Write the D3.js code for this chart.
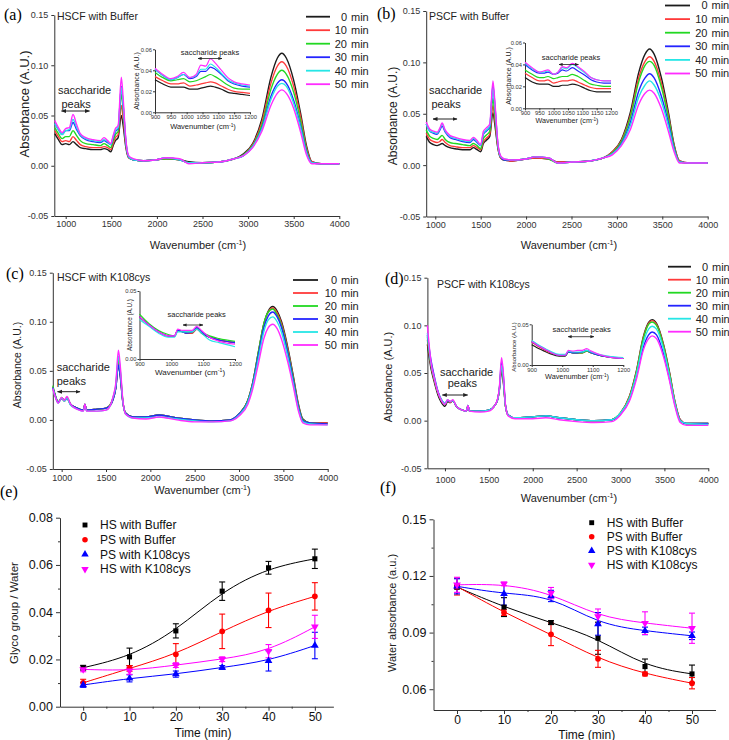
<!DOCTYPE html>
<html>
<head>
<meta charset="utf-8">
<title>FTIR spectra and kinetics</title>
<script src="https://cdn.jsdelivr.net/npm/d3@7/dist/d3.min.js"></script>
<style>
  body { margin: 0; background: #fff; }
  svg { display: block; font-family: "Liberation Sans", Arial, sans-serif; }
</style>
</head>
<body>
<svg id="figure" width="729" height="740"></svg>
<script>
////////////////////////////////////////////////////////
//////////////////// Data //////////////////////////////
////////////////////////////////////////////////////////

const timeLabels = ["0", "10", "20", "30", "40", "50"];
const specColors = ["#1c1c1c", "#ff3a3a", "#22d822", "#2424ff", "#26e6e6", "#ff2cff"];
const mainWnTicks = [1000, 1500, 2000, 2500, 3000, 3500, 4000];
const absTicks = [-0.05, 0, 0.05, 0.10, 0.15];

// (a) HSCF with Buffer - one row per time (0 ... 50 min)
const wnA = [880,920,960,1000,1040,1080,1120,1160,1220,1300,1380,1420,1460,1495,1520,1545,1575,1610,1630,1660,1690,1740,1850,2000,2100,2250,2350,2500,2700,2850,2950,3050,3150,3250,3320,3370,3420,3500,3580,3640,3700,3800,4000];
const absA = [
  [.032,.026,.021,.022,.021,.024,.021,.018,.017,.016,.016,.017,.016,.014,.020,.025,.028,.050,.040,.018,.008,.006,.005,.006,.007,.006,.004,.003,.004,.007,.012,.022,.046,.088,.107,.112,.107,.085,.050,.020,.004,.002,.002],
  [.035,.029,.024,.025,.024,.029,.025,.021,.019,.018,.018,.019,.018,.016,.022,.028,.031,.060,.047,.020,.008,.006,.005,.006,.007,.006,.003,.003,.004,.007,.011,.021,.043,.082,.099,.1035,.099,.079,.047,.018,.004,.002,.002],
  [.038,.032,.027,.029,.029,.035,.030,.025,.022,.021,.020,.022,.020,.018,.025,.031,.034,.071,.055,.022,.009,.006,.005,.006,.007,.006,.003,.003,.004,.007,.011,.020,.040,.076,.091,.095,.091,.073,.043,.016,.003,.002,.002],
  [.042,.036,.031,.035,.035,.043,.036,.030,.026,.024,.023,.025,.023,.021,.028,.034,.037,.079,.061,.024,.009,.006,.005,.006,.008,.006,.003,.003,.004,.007,.010,.019,.037,.069,.082,.0855,.082,.065,.038,.014,.003,.002,.002],
  [.042,.036,.031,.035,.036,.046,.038,.031,.027,.025,.024,.026,.024,.021,.029,.035,.038,.078,.060,.024,.009,.006,.005,.006,.008,.006,.003,.003,.004,.007,.010,.019,.036,.066,.079,.082,.079,.062,.036,.013,.003,.002,.002],
  [.045,.038,.033,.037,.038,.051,.041,.032,.028,.026,.025,.028,.025,.022,.030,.037,.040,.088,.067,.026,.010,.007,.005,.006,.008,.007,.002,.003,.004,.007,.010,.018,.034,.060,.072,.0755,.072,.057,.032,.011,.002,.002,.002]
];
const insetWnA = [900,925,950,970,990,1010,1030,1045,1060,1075,1090,1110,1130,1150,1175,1200];
const insetAbsA = [
  [.031,.027,.024,.024,.024,.022,.022,.023,.024,.025,.024,.022,.019,.018,.017,.016],
  [.034,.030,.027,.027,.028,.025,.026,.027,.028,.029,.028,.025,.022,.020,.019,.018],
  [.038,.033,.030,.031,.032,.029,.030,.032,.034,.036,.034,.030,.026,.023,.022,.022],
  [.041,.035,.031,.033,.036,.032,.034,.039,.039,.043,.041,.036,.030,.027,.025,.024],
  [.041,.035,.031,.033,.036,.033,.035,.041,.041,.046,.043,.037,.031,.028,.026,.025],
  [.042,.036,.032,.034,.038,.033,.036,.045,.044,.051,.047,.040,.033,.029,.027,.026]
];

// (b) PSCF with Buffer
const wnB = [900,940,980,1020,1050,1075,1110,1160,1220,1300,1380,1420,1460,1500,1530,1560,1600,1635,1655,1690,1720,1760,1850,2000,2100,2250,2350,2500,2700,2850,2950,3050,3150,3240,3310,3360,3410,3490,3570,3630,3690,3800,4000];
const absB = [
  [.028,.022,.020,.019,.020,.021,.019,.017,.016,.015,.015,.017,.015,.013,.021,.024,.028,.051,.040,.016,.007,.005,.004,.006,.007,.006,.003,.003,.004,.007,.013,.025,.052,.090,.108,.113,.108,.085,.050,.020,.004,.002,.002],
  [.031,.025,.023,.022,.023,.025,.022,.019,.018,.017,.017,.019,.017,.015,.023,.026,.030,.058,.045,.017,.007,.005,.004,.006,.007,.006,.003,.003,.004,.007,.013,.024,.049,.085,.101,.1055,.101,.080,.047,.019,.004,.002,.002],
  [.034,.028,.026,.025,.027,.029,.025,.022,.021,.020,.019,.021,.019,.016,.026,.029,.033,.065,.050,.018,.008,.005,.005,.006,.008,.006,.002,.003,.004,.007,.012,.023,.047,.081,.097,.101,.097,.076,.045,.018,.003,.002,.002],
  [.040,.033,.031,.030,.034,.038,.032,.027,.025,.023,.022,.025,.022,.019,.030,.033,.037,.078,.060,.020,.008,.005,.005,.006,.008,.007,.002,.003,.004,.007,.011,.021,.042,.072,.085,.089,.085,.067,.040,.016,.003,.002,.002],
  [.040,.033,.032,.031,.035,.040,.033,.028,.026,.024,.023,.026,.023,.019,.031,.034,.038,.075,.058,.020,.008,.006,.005,.006,.008,.007,.002,.003,.004,.007,.011,.020,.039,.066,.078,.082,.078,.062,.037,.015,.003,.002,.002],
  [.042,.035,.033,.032,.036,.041,.034,.029,.027,.025,.024,.027,.024,.020,.033,.036,.040,.082,.063,.021,.009,.006,.005,.006,.008,.007,.002,.003,.004,.007,.010,.019,.035,.059,.070,.073,.070,.055,.032,.013,.002,.002,.002]
];
const insetWnB = [900,925,950,965,980,1000,1015,1030,1045,1065,1085,1110,1130,1150,1175,1200];
const insetAbsB = [
  [.028,.024,.022,.022,.022,.020,.020,.021,.021,.022,.021,.018,.016,.015,.015,.015],
  [.032,.028,.025,.025,.026,.023,.024,.025,.025,.026,.024,.021,.019,.018,.018,.018],
  [.035,.031,.028,.028,.029,.027,.028,.029,.029,.031,.029,.025,.022,.021,.020,.020],
  [.040,.035,.032,.032,.033,.031,.032,.035,.034,.037,.034,.030,.026,.024,.023,.023],
  [.041,.036,.033,.033,.034,.031,.033,.037,.036,.040,.037,.032,.028,.026,.025,.025],
  [.042,.037,.033,.034,.035,.031,.033,.038,.037,.041,.038,.033,.028,.026,.025,.025]
];

// (c) HSCF with K108cys
const wnC = [900,930,960,1000,1030,1060,1100,1150,1200,1245,1262,1280,1400,1500,1550,1580,1610,1640,1660,1690,1720,1800,1950,2100,2300,2500,2700,2900,3000,3100,3150,3220,3280,3330,3380,3430,3480,3550,3610,3670,3720,3800,4000];
const absC = [
  [.033,.024,.018,.022,.020,.022,.016,.013,.011,.010,.016,.010,.011,.012,.015,.021,.032,.056,.045,.018,.007,.003,.003,.005,.002,.000,-.001,.000,.006,.020,.036,.070,.098,.111,.1155,.111,.100,.074,.046,.016,.001,-.003,-.003],
  [.033,.024,.018,.022,.019,.022,.016,.013,.011,.010,.016,.010,.011,.012,.016,.022,.033,.060,.048,.019,.007,.003,.003,.005,.002,.000,-.001,.000,.006,.020,.036,.069,.097,.110,.114,.109,.098,.072,.044,.015,.000,-.003,-.003],
  [.035,.025,.018,.023,.020,.023,.016,.013,.011,.010,.016,.010,.011,.012,.016,.023,.034,.062,.050,.019,.007,.003,.003,.005,.002,.000,-.001,.000,.006,.020,.036,.070,.098,.110,.113,.107,.096,.070,.043,.014,.000,-.003,-.004],
  [.033,.024,.018,.022,.020,.022,.016,.013,.011,.010,.016,.010,.011,.012,.015,.021,.032,.056,.045,.018,.007,.003,.003,.005,.002,.000,-.001,.000,.006,.019,.035,.067,.094,.106,.110,.105,.094,.068,.041,.013,-.001,-.003,-.004],
  [.032,.023,.017,.022,.019,.022,.015,.012,.010,.009,.015,.009,.009,.010,.015,.023,.035,.065,.052,.019,.006,.002,.002,.003,.001,-.001,-.002,-.001,.005,.018,.033,.063,.090,.102,.105,.100,.089,.064,.038,.011,-.002,-.004,-.005],
  [.032,.023,.017,.023,.020,.024,.016,.012,.010,.009,.016,.009,.009,.010,.015,.024,.037,.071,.056,.020,.006,.002,.001,.003,.000,-.002,-.002,-.001,.004,.016,.030,.058,.083,.094,.0975,.093,.082,.059,.035,.009,-.003,-.005,-.005]
];
const insetWnC = [900,930,960,990,1010,1020,1035,1050,1065,1080,1095,1120,1150,1200];
const insetAbsC = [
  [.031,.025,.020,.017,.017,.021,.020,.019,.019,.022,.019,.016,.014,.012],
  [.031,.025,.020,.017,.017,.021,.020,.019,.019,.022,.020,.016,.014,.012],
  [.033,.026,.021,.018,.017,.021,.020,.020,.020,.023,.020,.017,.015,.013],
  [.031,.025,.020,.017,.017,.021,.020,.019,.020,.023,.020,.016,.014,.012],
  [.029,.024,.019,.016,.016,.020,.020,.020,.020,.022,.019,.014,.012,.009],
  [.031,.025,.020,.017,.017,.022,.021,.021,.021,.024,.021,.016,.013,.011]
];

// (d) PSCF with K108cys
const wnD = [800,840,880,920,960,1000,1030,1060,1090,1130,1200,1245,1262,1280,1400,1500,1560,1600,1620,1645,1665,1690,1720,1800,2000,2150,2300,2500,2700,2900,3000,3100,3180,3260,3320,3360,3410,3490,3560,3620,3680,3750,4000];
const absD = [
  [.080,.055,.040,.027,.019,.015,.020,.019,.021,.015,.011,.010,.016,.010,.010,.011,.015,.022,.032,.052,.040,.015,.006,.003,.004,.005,.003,.001,.000,.001,.008,.025,.052,.088,.103,.106,.102,.080,.050,.020,.001,-.003,-.003],
  [.085,.058,.042,.029,.021,.017,.021,.019,.021,.015,.011,.010,.016,.010,.010,.011,.015,.022,.033,.055,.042,.015,.006,.003,.004,.005,.003,.001,.000,.001,.008,.025,.051,.087,.102,.105,.101,.079,.049,.020,.001,-.003,-.003],
  [.088,.060,.043,.030,.021,.017,.021,.020,.021,.015,.011,.010,.016,.010,.010,.011,.015,.022,.033,.057,.043,.015,.006,.003,.004,.005,.003,.001,.000,.001,.008,.024,.050,.086,.101,.1035,.100,.078,.048,.019,.000,-.003,-.003],
  [.090,.064,.046,.031,.022,.018,.021,.020,.021,.015,.011,.010,.016,.010,.010,.011,.015,.022,.034,.062,.047,.016,.006,.003,.004,.005,.003,.001,.000,.001,.007,.022,.046,.077,.090,.093,.090,.070,.043,.017,.000,-.003,-.003],
  [.092,.060,.044,.030,.022,.018,.022,.020,.021,.015,.011,.010,.016,.010,.010,.011,.015,.022,.033,.058,.044,.015,.006,.003,.004,.005,.003,.001,.000,.001,.008,.023,.048,.082,.096,.099,.096,.075,.046,.018,.000,-.003,-.004],
  [.100,.062,.044,.030,.021,.017,.022,.020,.022,.015,.011,.010,.016,.010,.009,.010,.015,.023,.035,.066,.050,.016,.005,.002,.002,.003,.001,-.001,-.002,-.001,.006,.020,.043,.074,.086,.089,.086,.067,.041,.015,-.002,-.005,-.005]
];
const insetWnD = [900,930,960,990,1010,1020,1035,1050,1065,1080,1095,1120,1150,1200];
const insetAbsD = [
  [.025,.019,.014,.011,.011,.016,.015,.015,.015,.017,.015,.012,.010,.008],
  [.028,.021,.015,.012,.012,.016,.015,.015,.015,.017,.015,.012,.010,.008],
  [.029,.022,.016,.012,.012,.016,.015,.015,.015,.017,.015,.012,.010,.008],
  [.029,.022,.016,.012,.012,.016,.015,.015,.016,.018,.015,.012,.010,.008],
  [.030,.023,.017,.013,.013,.017,.016,.016,.016,.018,.016,.013,.011,.009],
  [.029,.022,.016,.012,.012,.018,.017,.018,.018,.020,.017,.013,.010,.008]
];

// (e) and (f) kinetics
const times = [0, 10, 20, 30, 40, 50];
const timeMinor = [5, 15, 25, 35, 45];
const kinNames = ["HS with Buffer", "PS with Buffer", "PS with K108cys", "HS with K108cys"];
const kinColors = ["#000000", "#ff0000", "#0000ff", "#ff00ff"];

const glycoMean = [
  [0.0165, 0.0211, 0.0321, 0.0489, 0.0588, 0.0626],
  [0.0101, 0.0162, 0.0222, 0.0319, 0.0408, 0.0467],
  [0.0092, 0.0120, 0.0138, 0.0166, 0.0194, 0.0259],
  [0.0158, 0.0152, 0.0176, 0.0201, 0.0235, 0.0338]
];
const glycoErr = [
  [0.0010, 0.0037, 0.0030, 0.0039, 0.0027, 0.0041],
  [0.0015, 0.0012, 0.0045, 0.0073, 0.0073, 0.0058],
  [0.0010, 0.0015, 0.0013, 0.0008, 0.0043, 0.0056],
  [0.0010, 0.0015, 0.0010, 0.0010, 0.0028, 0.0049]
];
const waterMean = [
  [0.1141, 0.1035, 0.0953, 0.0870, 0.0720, 0.0681],
  [0.1144, 0.1006, 0.0891, 0.0761, 0.0681, 0.0632],
  [0.1145, 0.1105, 0.1094, 0.0946, 0.0909, 0.0883],
  [0.1153, 0.1158, 0.1109, 0.0985, 0.0950, 0.0923]
];
const waterErr = [
  [0.0010, 0.0050, 0.0010, 0.0085, 0.0040, 0.0047],
  [0.0045, 0.0015, 0.0060, 0.0045, 0.0010, 0.0030],
  [0.0040, 0.0060, 0.0030, 0.0060, 0.0020, 0.0020],
  [0.0040, 0.0010, 0.0030, 0.0040, 0.0060, 0.0080]
];

////////////////////////////////////////////////////////
//////////////////// Setup /////////////////////////////
////////////////////////////////////////////////////////

const svg = d3.select("#figure");
const axisColor = "#333";

const defs = svg.append("defs");
defs.append("marker")
    .attr("id", "head")
    .attr("viewBox", "0 0 10 10")
    .attr("refX", 9).attr("refY", 5)
    .attr("markerWidth", 5).attr("markerHeight", 5)
    .attr("orient", "auto-start-reverse")
  .append("path")
    .attr("d", "M0,1L10,5L0,9Z")
    .attr("fill", "#222");

function styleAxis(sel, size, color) {
  sel.attr("font-family", null).attr("font-size", size);
  sel.select(".domain").attr("stroke", axisColor);
  sel.selectAll(".tick line").attr("stroke", axisColor);
  sel.selectAll(".tick text").attr("fill", color || "#333");
}

function wavenumberText(sel) {
  sel.append("tspan").text("Wavenumber (cm");
  sel.append("tspan").attr("baseline-shift", "super").attr("font-size", "65%").text("-1");
  sel.append("tspan").text(")");
}

function rotatedText(g, x, y, size, text) {
  g.append("text")
      .attr("transform", `translate(${x},${y}) rotate(-90)`)
      .attr("text-anchor", "middle")
      .attr("dy", "0.35em")
      .attr("font-size", size)
      .attr("fill", "#222")
      .text(text);
}

function arrow(g, x1, x2, y, w) {
  g.append("line")
      .attr("x1", x1).attr("x2", x2).attr("y1", y).attr("y2", y)
      .attr("stroke", "#222").attr("stroke-width", w)
      .attr("marker-start", "url(#head)")
      .attr("marker-end", "url(#head)");
}

////////////////////////////////////////////////////////
//////////////////// Spectra panels ////////////////////
////////////////////////////////////////////////////////

function drawSpectrum(p) {
  const g = svg.append("g");
  const x = d3.scaleLinear().domain(p.xDomain).range(p.xRange);
  const y = d3.scaleLinear().domain([-0.05, 0.15]).range(p.yRange);

  const xAxis = g.append("g")
      .attr("transform", `translate(0,${p.yRange[0]})`)
      .call(d3.axisBottom(x).tickValues(mainWnTicks).tickSize(3).tickSizeOuter(0)
        .tickPadding(p.xPad).tickFormat(d3.format("d")));
  styleAxis(xAxis, 9);

  const yAxis = g.append("g")
      .attr("transform", `translate(${p.xRange[0]},0)`)
      .call(d3.axisLeft(y).tickValues(absTicks).tickSize(3).tickSizeOuter(0)
        .tickFormat(d => d.toFixed(2)));
  styleAxis(yAxis, 9);

  const line = d3.line()
      .x((d, i) => x(p.wn[i]))
      .y(d => y(d))
      .curve(d3.curveMonotoneX);

  g.append("g")
    .selectAll("path")
    .data(p.abs)
    .join("path")
      .attr("d", line)
      .attr("fill", "none")
      .attr("stroke", (d, i) => specColors[i])
      .attr("stroke-width", 1.4);

  // titles and labels
  g.append("text").attr("x", p.label[0]).attr("y", p.label[1])
      .attr("font-family", "'Liberation Serif', serif").attr("font-size", 16)
      .text(p.labelText);
  g.append("text").attr("x", p.title[0]).attr("y", p.title[1])
      .attr("font-size", 10.5).attr("fill", "#222").text(p.titleText);
  g.append("text").attr("x", p.xTitle[0]).attr("y", p.xTitle[1])
      .attr("text-anchor", "middle").attr("font-size", 11).attr("fill", "#222")
      .call(wavenumberText);
  rotatedText(g, p.yTitle[0], p.yTitle[1], p.yTitle[2], "Absorbance (A.U.)");

  // saccharide annotation
  const s = p.sacch;
  g.append("text").attr("x", s.x1).attr("y", s.y1).attr("font-size", 11).attr("fill", "#222").text("saccharide");
  g.append("text").attr("x", s.x2).attr("y", s.y2).attr("font-size", 11).attr("fill", "#222").text("peaks");
  arrow(g, s.ax1, s.ax2, s.ay, 1);

  // legend
  const L = p.legend;
  const lg = g.append("g").attr("font-size", 11).attr("fill", "#222");
  timeLabels.forEach((t, i) => {
    const yy = L.y0 + i * L.step;
    lg.append("line").attr("x1", L.x1).attr("x2", L.x2).attr("y1", yy).attr("y2", yy)
        .attr("stroke", specColors[i]).attr("stroke-width", 1.8);
    lg.append("text").attr("x", L.num).attr("y", yy).attr("dy", "0.36em")
        .attr("text-anchor", "end").text(t);
    lg.append("text").attr("x", L.num + 4).attr("y", yy).attr("dy", "0.36em").text("min");
  });

  drawInset(g, p.inset);
}

function drawInset(parent, q) {
  const g = parent.append("g");
  const x = d3.scaleLinear().domain([900, 1200]).range(q.xRange);
  const y = d3.scaleLinear().domain(q.yDomain).range(q.yRange);

  const xAxis = g.append("g")
      .attr("transform", `translate(0,${q.yRange[0]})`)
      .call(d3.axisBottom(x).tickValues(q.xTicks).tickSize(2).tickSizeOuter(0).tickPadding(1)
        .tickFormat(d3.format("d")));
  styleAxis(xAxis, 5.8);
  const yAxis = g.append("g")
      .attr("transform", `translate(${q.xRange[0]},0)`)
      .call(d3.axisLeft(y).tickValues(q.yTicks).tickSize(2).tickSizeOuter(0).tickPadding(1)
        .tickFormat(d => d.toFixed(2)));
  styleAxis(yAxis, 5.8);

  const line = d3.line()
      .x((d, i) => x(q.wn[i]))
      .y(d => y(d))
      .curve(d3.curveMonotoneX);

  g.append("g")
    .selectAll("path")
    .data(q.abs)
    .join("path")
      .attr("d", line)
      .attr("fill", "none")
      .attr("stroke", (d, i) => specColors[i])
      .attr("stroke-width", 1.2);

  g.append("text").attr("x", q.xTitle[0]).attr("y", q.xTitle[1])
      .attr("text-anchor", "middle").attr("font-size", q.xTitle[2]).attr("fill", "#222")
      .call(wavenumberText);
  rotatedText(g, q.yTitle[0], q.yTitle[1], q.yTitle[2], "Absorbance (A.U.)");
  g.append("text").attr("x", q.sacch[0]).attr("y", q.sacch[1])
      .attr("text-anchor", "middle").attr("font-size", 7.5).attr("fill", "#222")
      .text("saccharide peaks");
  arrow(g, q.arrow[0], q.arrow[1], q.arrow[2], 0.8);
}

const xTicks50 = [900, 950, 1000, 1050, 1100, 1150, 1200];
const xTicks100 = [900, 1000, 1100, 1200];

drawSpectrum({
  labelText: "(a)", label: [4, 20], titleText: "HSCF with Buffer", title: [57, 20],
  wn: wnA, abs: absA, xDomain: [875, 4000], xRange: [54.3, 339.3], yRange: [216, 15], xPad: 2,
  xTitle: [198, 249], yTitle: [24, 104, 13],
  sacch: { x1: 58, y1: 94, x2: 61.5, y2: 108, ax1: 61.5, ax2: 89.5, ay: 111 },
  legend: { x1: 306, x2: 330, num: 347, y0: 16.7, step: 13.5 },
  inset: { wn: insetWnA, abs: insetAbsA, xRange: [155, 250], yRange: [112.3, 49.3], yDomain: [0, 0.06],
    yTicks: [0, 0.02, 0.04, 0.06], xTicks: xTicks50, xTitle: [203, 129, 7.5], yTitle: [137, 81, 7],
    sacch: [210, 55], arrow: [198, 222, 58.5] }
});

drawSpectrum({
  labelText: "(b)", label: [377, 19], titleText: "PSCF with Buffer", title: [429, 20],
  wn: wnB, abs: absB, xDomain: [900, 4000], xRange: [426.2, 707.7], yRange: [216.5, 11], xPad: 2,
  xTitle: [569, 249], yTitle: [393, 116, 12],
  sacch: { x1: 429, y1: 94, x2: 431.5, y2: 107.5, ax1: 433, ax2: 457, ay: 119 },
  legend: { x1: 665, x2: 690, num: 707.5, y0: 5.5, step: 13.6 },
  inset: { wn: insetWnB, abs: insetAbsB, xRange: [525, 611], yRange: [108.3, 42.5], yDomain: [0, 0.06],
    yTicks: [0, 0.02, 0.04, 0.06], xTicks: xTicks50, xTitle: [567, 122.5, 7.2], yTitle: [508.5, 76, 7],
    sacch: [571, 59.5], arrow: [559, 578.5, 64.5] }
});

drawSpectrum({
  labelText: "(c)", label: [6, 279], titleText: "HSCF with K108cys", title: [57, 281],
  wn: wnC, abs: absC, xDomain: [900, 4000], xRange: [52.8, 327.7], yRange: [469, 272.7], xPad: 3,
  xTitle: [202.5, 494], yTitle: [17, 365, 10.5],
  sacch: { x1: 56.7, y1: 371, x2: 56.7, y2: 384.5, ax1: 57.5, ax2: 80, ay: 391.7 },
  legend: { x1: 293, x2: 318, num: 337, y0: 280, step: 13 },
  inset: { wn: insetWnC, abs: insetAbsC, xRange: [139.5, 235], yRange: [359, 291], yDomain: [0, 0.05],
    yTicks: [0, 0.05], xTicks: xTicks100, xTitle: [190, 374.5, 8], yTitle: [130, 325, 6.3],
    sacch: [196.7, 317], arrow: [183, 203, 325] }
});

drawSpectrum({
  labelText: "(d)", label: [385, 284], titleText: "PSCF with K108cys", title: [437, 288],
  wn: wnD, abs: absD, xDomain: [800, 4000], xRange: [427.4, 708.3], yRange: [468.3, 277.7], xPad: 5,
  xTitle: [569, 501.5], yTitle: [388, 377, 11],
  sacch: { x1: 440, y1: 375.5, x2: 447.7, y2: 386.5, ax1: 442.3, ax2: 467.7, ay: 395 },
  legend: { x1: 668, x2: 691, num: 708, y0: 266.7, step: 13 },
  inset: { wn: insetWnD, abs: insetAbsD, xRange: [531.7, 623.3], yRange: [365, 324.3], yDomain: [0, 0.05],
    yTicks: [0, 0.05], xTicks: xTicks100, xTitle: [577, 379, 7.3], yTitle: [513.5, 347, 6],
    sacch: [581.7, 332], arrow: [568, 594, 336.7] }
});

////////////////////////////////////////////////////////
//////////////////// Kinetics panels ///////////////////
////////////////////////////////////////////////////////

const kinSymbols = [d3.symbolSquare, d3.symbolCircle, d3.symbolTriangle, d3.symbolTriangle];
const kinRotate = [0, 0, 0, 180];

function drawKinetics(k) {
  const g = svg.append("g");
  const x = d3.scaleLinear().domain(k.xDomain).range(k.xRange);
  const y = d3.scaleLinear().domain(k.yDomain).range(k.yRange);

  const xAxis = g.append("g")
      .attr("transform", `translate(0,${k.yRange[0]})`)
      .call(d3.axisBottom(x).tickValues(times).tickSize(4).tickSizeOuter(0).tickPadding(k.xPad));
  styleAxis(xAxis, 12, "#111");
  g.append("g")
      .attr("transform", `translate(0,${k.yRange[0]})`)
      .call(d3.axisBottom(x).tickValues(timeMinor).tickSize(2).tickFormat(""))
      .call(a => a.select(".domain").remove())
      .selectAll("line").attr("stroke", axisColor);

  const yAxis = g.append("g")
      .attr("transform", `translate(${k.xRange[0]},0)`)
      .call(d3.axisLeft(y).tickValues(k.yTicks).tickSize(4).tickSizeOuter(0).tickPadding(3)
        .tickFormat(d => d.toFixed(2)));
  styleAxis(yAxis, 12.5, "#111");
  g.append("g")
      .attr("transform", `translate(${k.xRange[0]},0)`)
      .call(d3.axisLeft(y).tickValues(k.yMinor).tickSize(2).tickFormat(""))
      .call(a => a.select(".domain").remove())
      .selectAll("line").attr("stroke", axisColor);

  const fit = d3.line()
      .x((d, i) => x(times[i]))
      .y(d => y(d))
      .curve(d3.curveBasis);

  // fitted curves
  g.append("g")
    .selectAll("path")
    .data(k.mean)
    .join("path")
      .attr("d", fit)
      .attr("fill", "none")
      .attr("stroke", (d, i) => kinColors[i])
      .attr("stroke-width", 1);

  // error bars
  k.mean.forEach((vals, s) => {
    const pts = times.map((t, i) => ({ t: t, v: vals[i], e: k.err[s][i] }));
    const eb = g.append("g").attr("stroke", kinColors[s]).attr("stroke-width", 1.1);
    eb.selectAll(".bar").data(pts).join("line")
        .attr("x1", d => x(d.t)).attr("x2", d => x(d.t))
        .attr("y1", d => y(d.v - d.e)).attr("y2", d => y(d.v + d.e));
    eb.selectAll(".capTop").data(pts).join("line").attr("class", "capTop")
        .attr("x1", d => x(d.t) - 3).attr("x2", d => x(d.t) + 3)
        .attr("y1", d => y(d.v + d.e)).attr("y2", d => y(d.v + d.e));
    eb.selectAll(".capBot").data(pts).join("line").attr("class", "capBot")
        .attr("x1", d => x(d.t) - 3).attr("x2", d => x(d.t) + 3)
        .attr("y1", d => y(d.v - d.e)).attr("y2", d => y(d.v - d.e));
  });

  // markers
  k.mean.forEach((vals, s) => {
    g.append("g")
      .selectAll("path")
      .data(vals)
      .join("path")
        .attr("d", d3.symbol().type(kinSymbols[s]).size(26))
        .attr("transform", (d, i) => `translate(${x(times[i])},${y(d)}) rotate(${kinRotate[s]})`)
        .attr("fill", kinColors[s]);
  });

  // legend
  const L = k.legend;
  kinNames.forEach((name, s) => {
    const yy = L.y0 + s * L.step;
    g.append("path")
        .attr("d", d3.symbol().type(kinSymbols[s]).size(24))
        .attr("transform", `translate(${L.mx},${yy}) rotate(${kinRotate[s]})`)
        .attr("fill", kinColors[s]);
    g.append("text").attr("x", L.tx).attr("y", yy).attr("dy", "0.36em")
        .attr("font-size", 12).attr("fill", "#111").text(name);
  });

  g.append("text").attr("x", k.label[0]).attr("y", k.label[1])
      .attr("font-family", "'Liberation Serif', serif").attr("font-size", 16)
      .text(k.labelText);
  g.append("text").attr("x", k.xTitle[0]).attr("y", k.xTitle[1])
      .attr("text-anchor", "middle").attr("font-size", 12).attr("fill", "#111")
      .text("Time (min)");
  rotatedText(g, k.yTitle[0], k.yTitle[1], k.yTitle[2], k.yTitleText);
}

drawKinetics({
  labelText: "(e)", label: [0, 497],
  mean: glycoMean, err: glycoErr,
  xDomain: [-5, 54], xRange: [60, 333.4], yDomain: [0, 0.08], yRange: [706.7, 517.7], xPad: 2,
  yTicks: [0, 0.02, 0.04, 0.06, 0.08], yMinor: [0.01, 0.03, 0.05, 0.07],
  xTitle: [203, 736.5], yTitle: [13.5, 613, 11.5], yTitleText: "Glyco group / Water",
  legend: { mx: 85, tx: 100, y0: 525, step: 14.7 }
});

drawKinetics({
  labelText: "(f)", label: [380, 493],
  mean: waterMean, err: waterErr,
  xDomain: [-5, 55], xRange: [433.5, 715.5], yDomain: [0.049, 0.15], yRange: [710, 519.3], xPad: 1,
  yTicks: [0.06, 0.09, 0.12, 0.15], yMinor: [0.075, 0.105, 0.135],
  xTitle: [586.7, 738.5], yTitle: [391.7, 613, 11], yTitleText: "Water absorbance (a.u.)",
  legend: { mx: 591.7, tx: 606.7, y0: 522.7, step: 14.1 }
});
</script>
</body>
</html>
